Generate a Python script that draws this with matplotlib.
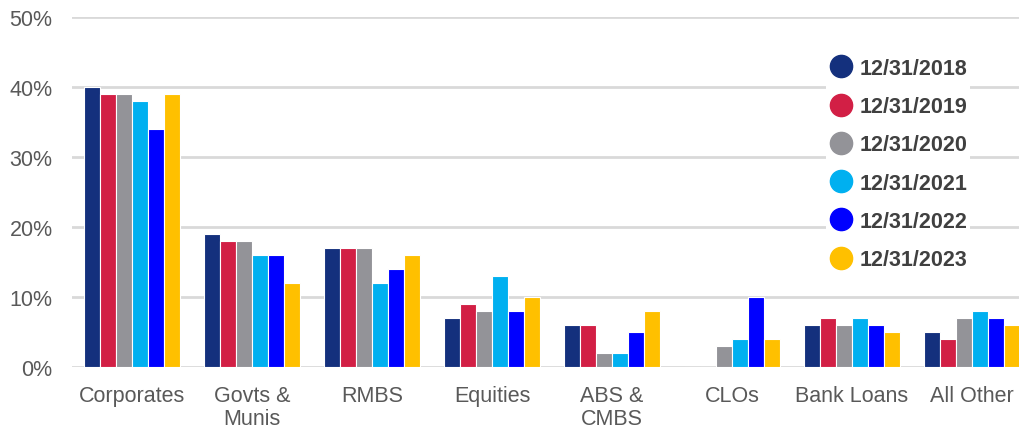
import numpy as np
import matplotlib.pyplot as plt
from matplotlib.lines import Line2D

plt.rcParams['font.family'] = ['Liberation Sans', 'DejaVu Sans']

# data
categories = ['Corporates', 'Govts &\nMunis', 'RMBS', 'Equities', 'ABS &\nCMBS',
              'CLOs', 'Bank Loans', 'All Other']
years = ['12/31/2018', '12/31/2019', '12/31/2020', '12/31/2021', '12/31/2022', '12/31/2023']
v2018 = [40, 19, 17, 7, 6, 0, 6, 5]
v2019 = [39, 18, 17, 9, 6, 0, 7, 4]
v2020 = [39, 18, 17, 8, 2, 3, 6, 7]
v2021 = [38, 16, 12, 13, 2, 4, 7, 8]
v2022 = [34, 16, 14, 8, 5, 10, 6, 7]
v2023 = [39, 12, 16, 10, 8, 4, 5, 6]
series = [v2018, v2019, v2020, v2021, v2022, v2023]
colors = ['#14307d', '#d21f45', '#939398', '#00b0f0', '#0000ff', '#ffc000']

fig = plt.figure(figsize=(10.2, 4.27), dpi=100)
ax = fig.add_axes([72/1020, 59/427, 948/1020, 350/427])

x = np.arange(len(categories))
w = 0.133
for i, (vals, c) in enumerate(zip(series, colors)):
    ax.bar(x + (i - 2.5) * w, vals, width=w, color=c, edgecolor='white',
           linewidth=0.8, zorder=3)

ax.set_xlim(-0.5, 7.4)
ax.set_ylim(0, 50)
ax.set_yticks(range(0, 51, 10))
ax.set_yticklabels([f'{t}%' for t in range(0, 51, 10)])
ax.set_xticks(x)
ax.set_xticklabels(categories, linespacing=1.15)
ax.tick_params(axis='both', length=0, labelsize=15.5, labelcolor='#595959')
ax.tick_params(axis='x', pad=13)
ax.tick_params(axis='y', pad=14)
ax.grid(axis='y', color='#d9d9d9', linewidth=2, zorder=0)
for s in ax.spines.values():
    s.set_visible(False)

handles = [Line2D([], [], marker='o', linestyle='', markersize=16,
                  markerfacecolor=c, markeredgecolor=c) for c in colors]
leg = fig.legend(handles, years, loc='upper left',
                 bbox_to_anchor=(815/1020, 1 - 45/427),
                 frameon=True, facecolor='white', edgecolor='none',
                 framealpha=1, borderpad=0.15, handletextpad=0.3,
                 handlelength=1.1, labelspacing=0.8,
                 prop={'size': 15.5, 'weight': 'bold'})
for t in leg.get_texts():
    t.set_color('#404040')

fig.savefig('out.png', dpi=100)
